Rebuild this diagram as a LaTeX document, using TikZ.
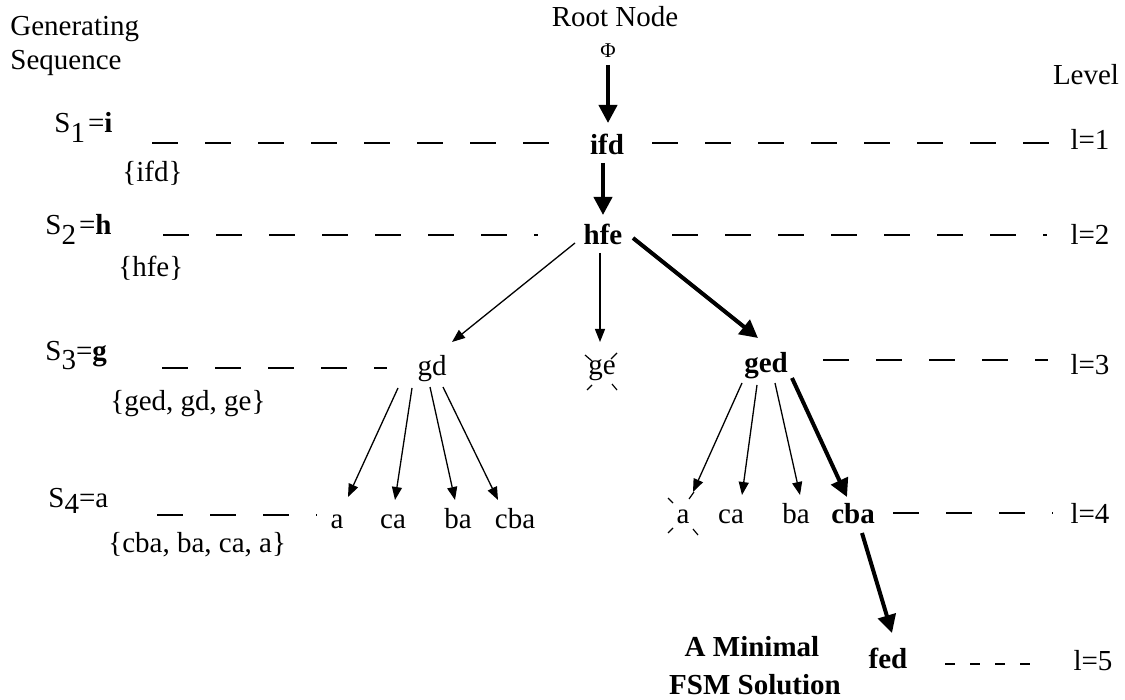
\documentclass[tikz,border=0pt]{standalone}
\usepackage{fontspec}
\setmainfont{Liberation Serif}
\usetikzlibrary{arrows.meta,calc}
\begin{document}
\begin{tikzpicture}[x=0.5pt,y=0.5pt,
  every node/.style={inner sep=0pt, font=\fontsize{14.5}{17}\selectfont},
  lbl/.style={anchor=base},
  lblw/.style={anchor=base west},
  boldlbl/.style={anchor=base, font=\fontsize{14.5}{17}\selectfont\bfseries},
  thinarrow/.style={line width=0.65pt, -{Triangle[length=6.5pt,width=5pt]}},
  thickarrow/.style={line width=2pt, -{Triangle[length=9pt,width=9pt]}},
  lvlline/.style={line width=0.8pt, dash pattern=on 13pt off 13.5pt},
  shortdash/.style={line width=0.8pt, dash pattern=on 5pt off 7.5pt},
  crossmark/.style={line width=0.6pt}
]
\useasboundingbox (0,0) rectangle (1125,-700);

% left column
\node[lblw] (gen) at (10,-36) {Generating};
\node[lblw] (seq) at (10,-70) {Sequence};
\node[lblw] (s1) at (54,-133) {S\raisebox{-5pt}{1}\hspace{1.5pt}=\textbf{i}};
\node[lblw] (set1) at (122,-182) {\{ifd\}};
\node[lblw] (s2) at (45,-235) {S\raisebox{-5pt}{2}\hspace{1.5pt}=\textbf{h}};
\node[lblw] (set2) at (118,-277) {\{hfe\}};
\node[lblw] (s3) at (45,-360) {S\raisebox{-5pt}{3}=\textbf{g}};
\node[lblw] (set3) at (110,-410) {\{ged, gd, ge\}};
\node[lblw] (s4) at (48,-507) {S\raisebox{-3pt}{4}=a};
\node[lblw] (set4) at (108,-552) {\{cba, ba, ca, a\}};

% right column
\node[lbl] (level) at (1086,-85) {Level};
\node[lbl] (l1) at (1090,-150) {l=1};
\node[lbl] (l2) at (1090,-245) {l=2};
\node[lbl] (l3) at (1090,-375) {l=3};
\node[lbl] (l4) at (1090,-523) {l=4};
\node[lbl] (l5) at (1093,-670) {l=5};

% tree
\node[lbl] (root) at (615,-27) {Root Node};
\node[lbl, font=\fontsize{10.5}{12}\selectfont] (phi) at (608,-58) {Φ};
\node[boldlbl] (ifd) at (607,-155) {ifd};
\node[boldlbl] (hfe) at (603,-245) {hfe};
\node[lbl] (gd) at (432,-376) {gd};
\node[lbl] (ge) at (602,-374) {ge};
\node[boldlbl] (ged) at (766,-372) {ged};
\node[lbl] (a1) at (337,-528) {a};
\node[lbl] (ca1) at (393,-528) {ca};
\node[lbl] (ba1) at (458,-528) {ba};
\node[lbl] (cba1) at (515,-528) {cba};
\node[lbl] (a2) at (683,-523) {a};
\node[lbl] (ca2) at (731,-523) {ca};
\node[lbl] (ba2) at (796,-523) {ba};
\node[boldlbl] (cba2) at (853,-523) {cba};
\node[boldlbl] (fed) at (888,-668) {fed};
\node[boldlbl] (min1) at (752,-656) {A Minimal};
\node[boldlbl] (min2) at (755,-694) {FSM Solution};

% level lines
\draw[lvlline] (152,-143) -- (549,-143);
\draw[lvlline] (652,-143) -- (1049,-143);
\draw[lvlline] (163,-235) -- (538,-235);
\draw[lvlline] (672,-235) -- (1047,-235);
\draw[lvlline] (162,-368) -- (387,-368);
\draw[lvlline] (823,-360) -- (1048,-360);
\draw[lvlline] (157,-515) -- (317,-515);
\draw[lvlline] (893,-513) -- (1053,-513);
\draw[shortdash] (945,-664) -- (1031,-664);

% connectors
\draw[thickarrow] ($(phi.base)+(0,-7)$) -- ($(ifd.base)+(1,32)$);
\draw[thickarrow] ($(ifd.base)+(-4,-8)$) -- ($(hfe.base)+(0,30)$);
\draw[thinarrow] ($(hfe.base)+(-28,2)$) -- ($(gd.base)+(20,34)$);
\draw[thinarrow] ($(hfe.base)+(-3,-8)$) -- ($(ge.base)+(-2,32)$);
\draw[thickarrow] ($(hfe.base)+(30,7)$) -- ($(ged.base)+(-8,34)$);

\draw[thinarrow] ($(gd.base)+(-34,-12)$) -- ($(a1.base)+(11,31)$);
\draw[thinarrow] ($(gd.base)+(-20,-12)$) -- ($(ca1.base)+(2,28)$);
\draw[thinarrow] ($(gd.base)+(-2,-11)$) -- ($(ba1.base)+(-3,28)$);
\draw[thinarrow] ($(gd.base)+(11,-11)$) -- ($(cba1.base)+(-17,28)$);

\draw[thinarrow] ($(ged.base)+(-24,-11)$) -- ($(a2.base)+(10,31)$);
\draw[thinarrow] ($(ged.base)+(-9,-13)$) -- ($(ca2.base)+(11,28)$);
\draw[thinarrow] ($(ged.base)+(9,-11)$) -- ($(ba2.base)+(4,28)$);
\draw[thickarrow] ($(ged.base)+(26,-6)$) -- ($(cba2.base)+(-6,26)$);
\draw[thickarrow] ($(cba2.base)+(9,-10)$) -- ($(fed.base)+(4,35)$);

% cross-out marks
\draw[crossmark] (585,-355) -- (592,-361);
\draw[crossmark] (617,-353) -- (611,-359);
\draw[crossmark] (587,-390) -- (592,-385);
\draw[crossmark] (612,-384) -- (617,-390);
\draw[crossmark] (668,-498) -- (673,-503);
\draw[crossmark] (694,-492) -- (689,-499);
\draw[crossmark] (668,-533) -- (673,-528);
\draw[crossmark] (693,-529) -- (698,-535);
\end{tikzpicture}
\end{document}
